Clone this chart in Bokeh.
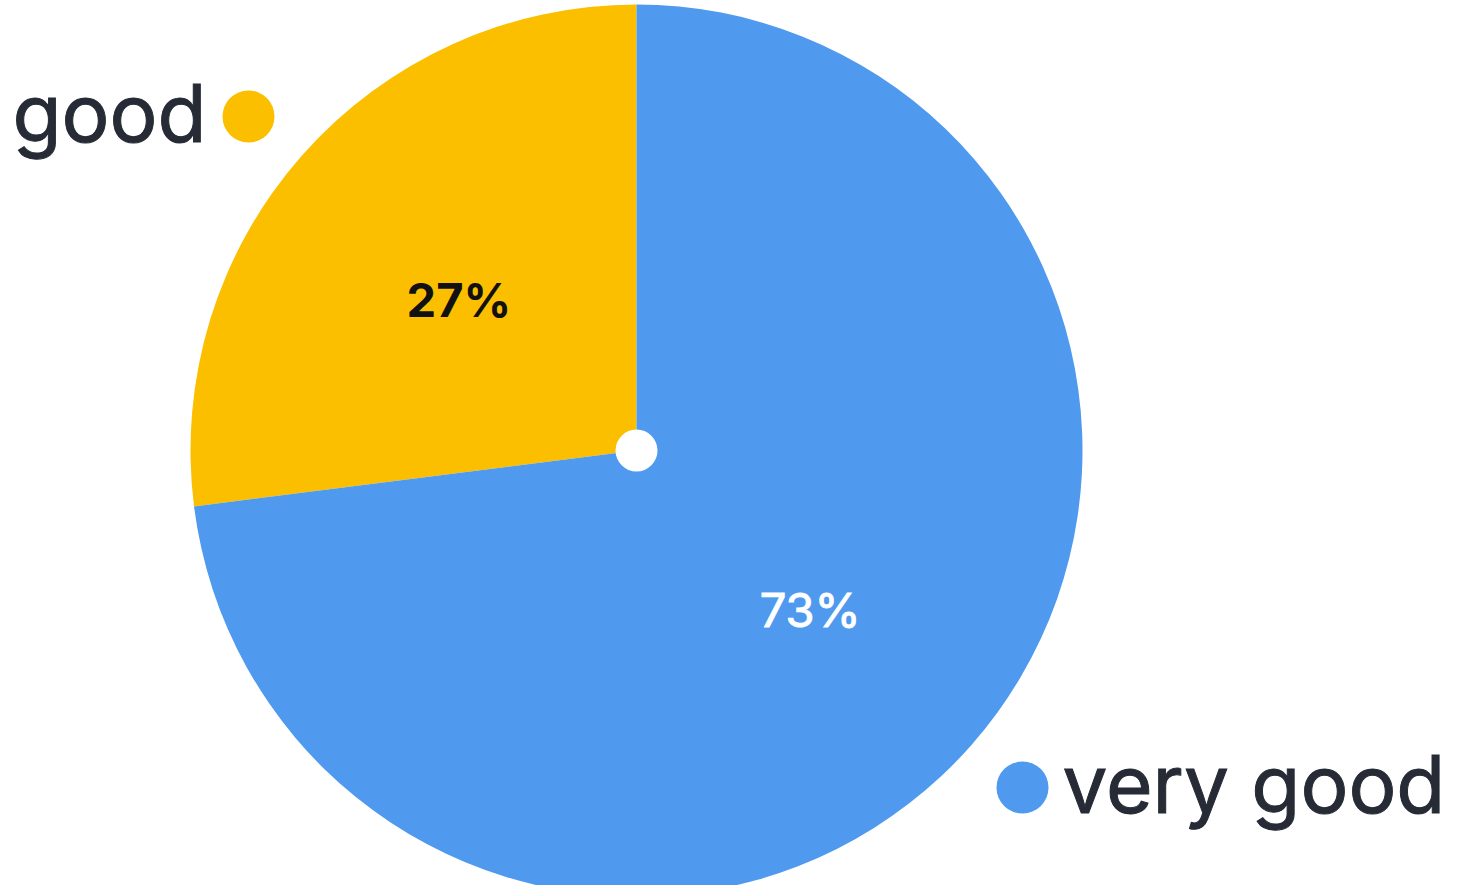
import math
from bokeh.plotting import figure
from bokeh.models import Range1d
from bokeh.core.properties import value
from bokeh.embed import file_html
from bokeh.resources import INLINE

categories = ["good", "very good"]
values = [27, 73]
colors = ["#FBBF00", "#4F9AEF"]
pct_labels = ["27%", "73%"]
pct_colors = ["#111111", "#FFFFFF"]
pct_weights = ["bold", "normal"]
pct_outline = [None, "#FFFFFF"]

FONT = "Inter"
W, H = 1451, 885
p = figure(width=W, height=H, output_backend="svg", toolbar_location=None,
           x_range=Range1d(0, W), y_range=Range1d(893 - H, 893), min_border=0)
p.axis.visible = False
p.grid.visible = False
p.outline_line_color = None
p.background_fill_color = "white"

cx, cy, r = 636, 893 - 450, 446
total = sum(values)
start = 90.0
for cat, v, c, lab, lc, lw, lo in zip(categories, values, colors, pct_labels, pct_colors, pct_weights, pct_outline):
    end = start + v / total * 360.0
    p.wedge(x=[cx], y=[cy], radius=r, start_angle=start, end_angle=end,
            start_angle_units="deg", end_angle_units="deg",
            fill_color=c, line_color=None)
    mid = math.radians((start + end) / 2)
    p.text(x=[cx + 0.525 * r * math.cos(mid) - 2], y=[cy + 0.525 * r * math.sin(mid) - 4], text=[lab],
           text_color=lc, text_font=value(FONT), text_font_size="47px",
           text_font_style=lw, text_align="center", text_baseline="middle",
           text_outline_color=lo)
    start = end

p.scatter(x=[cx], y=[cy], size=42, fill_color="white", line_color=None)

# category labels with dots
p.scatter(x=[248], y=[893 - 116], size=52, fill_color=colors[0], line_color=None)
p.text(x=[206], y=[893 - 112], text=[categories[0]], text_color="#262B35",
       text_font=value(FONT), text_font_size="80px", text_align="right", text_baseline="alphabetic",
       text_outline_color="#262B35")
p.scatter(x=[1022], y=[893 - 787], size=52, fill_color=colors[1], line_color=None)
p.text(x=[1062], y=[893 - 783], text=[categories[1]], text_color="#262B35",
       text_font=value(FONT), text_font_size="80px", text_align="left", text_baseline="alphabetic",
       text_outline_color="#262B35")

open("out.html", "w").write(file_html(p, INLINE))
